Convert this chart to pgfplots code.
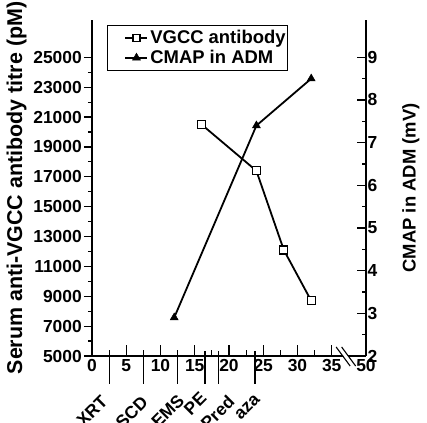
\documentclass[border=0pt]{standalone}
\usepackage{pgfplots}
\pgfplotsset{compat=1.18}
\usepackage{fontspec}
\setmainfont{Liberation Sans}
\newcommand{\tickfont}{\fontsize{17.5}{20}\selectfont\bfseries}
\pgfplotsset{
  base/.style={width=274bp,height=336bp,scale only axis,at={(0,0)},anchor=south west,
    xmin=0,xmax=40,clip=false,
    axis line style={line width=1.2bp},
    every tick/.style={black,line width=1.2bp},
    tick label style={font=\tickfont},
    scaled y ticks=false, scaled x ticks=false,
    /pgf/number format/assume math mode=true,
    /pgf/number format/1000 sep={}},
}
\begin{document}
\begin{tikzpicture}
% axis A: x axis and antibody series
\begin{axis}[base, ymin=5000, ymax=27500,
  axis x line*=bottom, axis y line*=left,
  ytick=\empty,
  tick align=inside,
  xtick={0,5,...,40}, xticklabels={0,5,10,15,20,25,30,35,50},
  minor xtick={2.5,7.5,12.5,17.5,22.5,27.5,32.5},
  major tick length=11bp, minor tick length=6bp,
  xticklabel style={inner sep=3bp}]
\addplot[black, line width=1.8bp, mark=square*, mark size=4bp, mark options={fill=white, line width=1.2bp}] coordinates {(16,20500)(24,17400)(28,12100)(32,8700)};
% treatment markers
\draw[line width=1.2bp] (axis cs:2.5,5000) -- ([yshift=-28bp]axis cs:2.5,5000);
\draw[line width=1.2bp] (axis cs:7.5,5000) -- ([yshift=-28bp]axis cs:7.5,5000);
\draw[line width=1.2bp] (axis cs:12.5,5000) -- ([yshift=-28bp]axis cs:12.5,5000);
\draw[line width=1.2bp] ([yshift=5bp]axis cs:16.5,5000) -- ([yshift=-28bp]axis cs:16.5,5000);
\draw[line width=1.2bp] ([yshift=5bp]axis cs:18.5,5000) -- ([yshift=-28bp]axis cs:18.5,5000);
\draw[line width=1.2bp] ([yshift=5bp]axis cs:23.8,5000) -- ([yshift=-28bp]axis cs:23.8,5000);
\node[rotate=45, anchor=north east, font=\tickfont, inner sep=0pt] at ([xshift=-9bp,yshift=-38bp]axis cs:2.5,5000) {XRT};
\node[rotate=45, anchor=north east, font=\tickfont, inner sep=0pt] at ([xshift=-3bp,yshift=-39bp]axis cs:7.5,5000) {SCD};
\node[rotate=45, anchor=north east, font=\tickfont, inner sep=0pt] at ([xshift=-1bp,yshift=-37bp]axis cs:12.5,5000) {LEMS};
\node[rotate=45, anchor=north east, font=\tickfont, inner sep=0pt] at ([xshift=-6bp,yshift=-35bp]axis cs:16.5,5000) {PE};
\node[rotate=45, anchor=north east, font=\tickfont, inner sep=0pt] at ([xshift=8bp,yshift=-38bp]axis cs:18.5,5000) {Pred};
\node[rotate=45, anchor=north east, font=\tickfont, inner sep=0pt] at ([xshift=-1bp,yshift=-38bp]axis cs:23.8,5000) {aza};
% axis break
\draw[white, line width=3.5bp] ([xshift=-7bp,yshift=9bp]axis cs:37.1,5000) -- ([xshift=7bp,yshift=-10bp]axis cs:37.1,5000);
\draw[line width=1.1bp] ([xshift=-10bp,yshift=9bp]axis cs:37.1,5000) -- ([xshift=4bp,yshift=-10bp]axis cs:37.1,5000);
\draw[line width=1.1bp] ([xshift=-4.5bp,yshift=9bp]axis cs:37.1,5000) -- ([xshift=9.5bp,yshift=-10bp]axis cs:37.1,5000);
\end{axis}
% axis B: left y ticks
\begin{axis}[base, ymin=5000, ymax=27500,
  axis x line=none, axis y line*=left,
  xtick=\empty,
  ytick={5000,7000,...,25000}, minor ytick={6000,8000,...,24000},
  tick align=outside, major tick length=8bp, minor tick length=4bp,
  yticklabel style={inner sep=2bp},
  ylabel={Serum anti-VGCC antibody titre (pM)},
  ylabel style={font=\fontsize{21.5}{24}\selectfont\bfseries, at={(axis description cs:-0.2755,0.5)}, anchor=center}]
\addplot[draw=none] coordinates {(0,5000)};
\end{axis}
% axis C: right y axis and CMAP series
\begin{axis}[base, ymin=2, ymax=9.875,
  axis x line=none, axis y line*=right,
  xtick=\empty,
  ytick={2,3,...,9}, minor ytick={2.5,3.5,...,8.5},
  tick align=inside, major tick length=9bp, minor tick length=4.5bp,
  yticklabel style={inner sep=1.5bp},
  ylabel={CMAP in ADM (mV)},
  ylabel style={font=\fontsize{18.5}{22}\selectfont\bfseries, at={(axis description cs:1.164,0.5)}, anchor=center},
  legend cell align=left,
  legend image code/.code={
    \path[draw=none] (0bp,0bp) -- (40bp,0bp);
    \draw[#1,mark=none] (18bp,0bp) -- (40bp,0bp);
    \draw[#1,only marks] plot coordinates {(29bp,0bp)};
  },
  legend style={at={(axis description cs:0.0547,0.985)}, anchor=north west, draw=black, line width=1bp,
    font=\fontsize{18.5}{22}\selectfont\bfseries, inner xsep=0bp, inner ysep=3bp, row sep=1bp}]
\addlegendimage{black, line width=1.5bp, mark=square*, mark size=3.5bp, mark options={fill=white, line width=1.1bp}}
\addlegendentry{VGCC antibody}
\addplot[black, line width=1.8bp, mark=triangle*, mark size=4.6bp, mark options={solid, line width=0.5bp}] coordinates {(12,2.9)(24,7.4)(32,8.5)};
\addlegendentry{CMAP in ADM}
\end{axis}
\pgfresetboundingbox
\useasboundingbox (-92bp,-67bp) rectangle (335bp,356bp);
\end{tikzpicture}
\end{document}
